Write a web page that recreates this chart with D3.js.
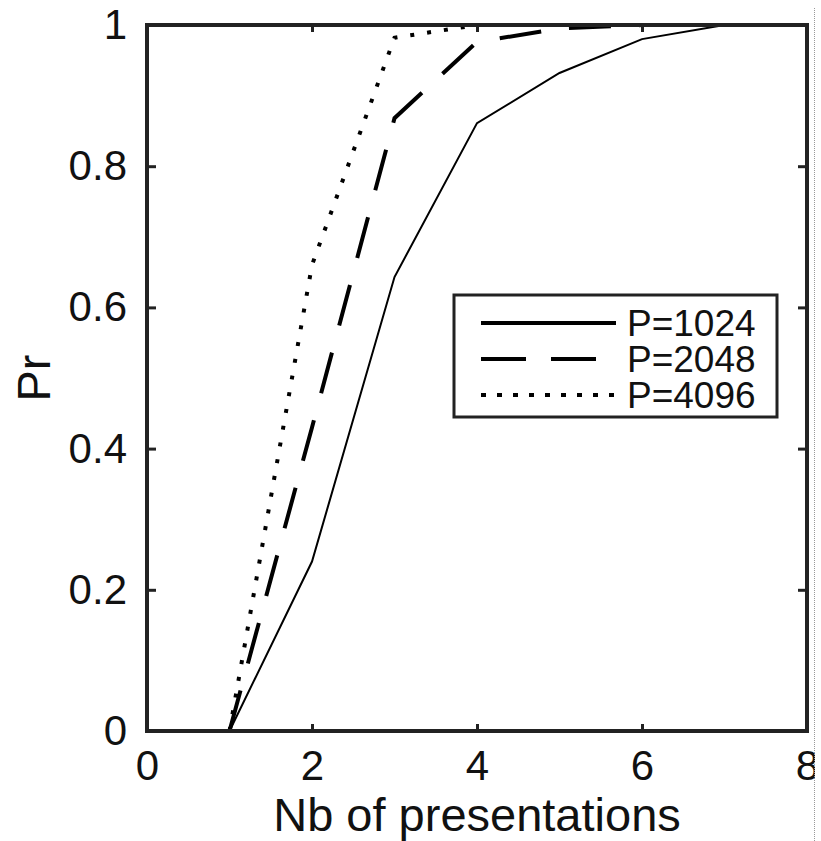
<!DOCTYPE html>
<html>
<head>
<meta charset="utf-8">
<script src="https://cdn.jsdelivr.net/npm/d3@7"></script>
<style>
	body { margin: 0; background: #fff; }
	svg { display: block; font-family: "Liberation Sans", Arial, sans-serif; }
</style>
</head>
<body>
<div id="chart"></div>
<script>
/*globals d3 */
//Pr vs number of presentations
var presentations = [1, 2, 3, 4, 5, 6, 7];
var seriesNames = ["P=1024", "P=2048", "P=4096"];
var p1024 = [0, 0.24, 0.643, 0.861, 0.932, 0.98, 1];
var p2048 = [0, 0.43, 0.868, 0.976, 0.995, 1, 1];
var p4096 = [0, 0.66, 0.982, 1, 1, 1, 1];
var xTicks = [0, 2, 4, 6, 8];
var yTicks = [0, 0.2, 0.4, 0.6, 0.8, 1];

(function() {
	"use strict";
	var W = 821, H = 841,
	left = 147, right = 807, top = 25, bottom = 731;

	var svg = d3.select("#chart").append("svg")
	.attr("width", W)
	.attr("height", H);

	// the picture is cropped at x=815
	svg.append("clipPath").attr("id", "crop")
	.append("rect").attr("width", 815).attr("height", H);
	var g = svg.append("g").attr("clip-path", "url(#crop)");

	var x = d3.scaleLinear().domain([0, 8]).range([left, right]);
	var y = d3.scaleLinear().domain([0, 1]).range([bottom, top]);

	var styles = [
		{ width: 2, dash: null, legendWidth: 4, legendDash: null },
		{ width: 4, dash: "42,28", legendWidth: 4, legendDash: "45,25" },
		{ width: 4, dash: "4,13", legendWidth: 4, legendDash: "5,11" }
	];
	var series = [p1024, p2048, p4096];

	var line = d3.line()
	.x(function(d, i) { return x(presentations[i]); })
	.y(function(d) { return y(d); });

	series.forEach(function(s, i) {
		g.append("path")
		.attr("d", line(s))
		.attr("fill", "none")
		.attr("stroke", "#000")
		.attr("stroke-width", styles[i].width)
		.attr("stroke-dasharray", styles[i].dash);
	});

	// axes: ticks inward on all four sides
	var xb = d3.axisBottom(x).tickValues(xTicks).tickSize(-7).tickPadding(19).tickFormat(d3.format("d"));
	var xt = d3.axisTop(x).tickValues(xTicks).tickSize(-7).tickFormat("");
	var yl = d3.axisLeft(y).tickValues(yTicks).tickSize(-9).tickPadding(20).tickFormat(function(d) { return d === 0 || d === 1 ? d : d3.format(".1f")(d); });
	var yr = d3.axisRight(y).tickValues(yTicks).tickSize(-9).tickFormat("");

	function style(a) {
		a.select(".domain").remove();
		a.selectAll(".tick line").attr("stroke", "#222").attr("stroke-width", 3);
		a.selectAll(".tick text").attr("fill", "#111").style("font-size", "42px")
		.style("font-family", "\"Liberation Sans\", Arial, sans-serif");
	}
	g.append("g").attr("transform", "translate(0," + bottom + ")").call(xb).call(style);
	g.append("g").attr("transform", "translate(0," + top + ")").call(xt).call(style);
	g.append("g").attr("transform", "translate(" + left + ",0)").call(yl).call(style);
	g.append("g").attr("transform", "translate(" + right + ",0)").call(yr).call(style);

	g.append("rect")
	.attr("x", left).attr("y", top)
	.attr("width", right - left).attr("height", bottom - top)
	.attr("fill", "none").attr("stroke", "#222").attr("stroke-width", 4);

	g.append("text")
	.attr("x", (left + right) / 2).attr("y", 831)
	.attr("text-anchor", "middle")
	.attr("fill", "#111")
	.style("font-size", "47px")
	.text("Nb of presentations");

	g.append("text")
	.attr("transform", "translate(50," + (top + bottom) / 2 + ") rotate(-90)")
	.attr("text-anchor", "middle")
	.attr("fill", "#111")
	.style("font-size", "47px")
	.text("Pr");

	// legend
	var lg = g.append("g").attr("transform", "translate(454,295)");
	lg.append("rect")
	.attr("width", 323).attr("height", 122)
	.attr("fill", "#fff").attr("stroke", "#222").attr("stroke-width", 3);
	seriesNames.forEach(function(name, i) {
		var yy = 28 + i * 36;
		lg.append("line")
		.attr("x1", 27).attr("x2", 162)
		.attr("y1", yy).attr("y2", yy)
		.attr("stroke", "#000")
		.attr("stroke-width", styles[i].legendWidth)
		.attr("stroke-dasharray", styles[i].legendDash);
		lg.append("text")
		.attr("x", 173).attr("y", yy + 13)
		.attr("fill", "#111")
		.style("font-size", "37px")
		.text(name);
	});

	// right edge of the cropped picture
	svg.append("line")
	.attr("x1", 814.5).attr("x2", 814.5)
	.attr("y1", 8).attr("y2", H)
	.attr("stroke", "#999").attr("stroke-width", 1)
	.attr("stroke-dasharray", "1,1");
}());
</script>
</body>
</html>
